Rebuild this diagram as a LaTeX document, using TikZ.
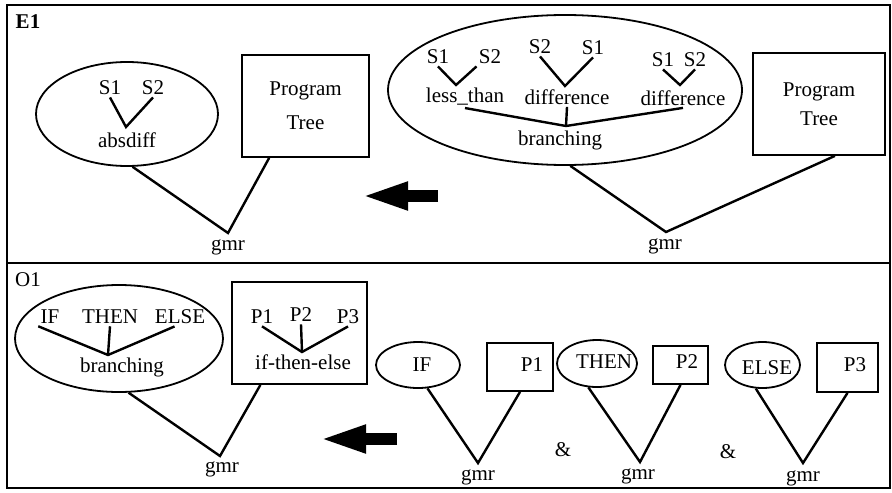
\documentclass[tikz,border=0pt]{standalone}
\usepackage{fontspec}
\setmainfont{Liberation Serif}
\usetikzlibrary{shapes.geometric,arrows.meta}
\newcommand\diagfont{\fontsize{10.5}{12.6}\selectfont}
\begin{document}
\begin{tikzpicture}[x=0.5pt,y=-0.5pt,
    every node/.style={font=\diagfont, inner sep=1pt},
    oval/.style={draw, ellipse, line width=0.9pt, inner sep=0pt},
    tbox/.style={draw, rectangle, line width=0.9pt, align=center},
    bigarrow/.style={line width=6pt, -{Triangle[length=24pt,width=12.5pt]}}]
  \useasboundingbox (0,0) rectangle (892,492);
  \draw[line width=1pt] (7,5) rectangle (890,488);
  \draw[line width=1pt] (7,263) -- (890,263);
  % E1
  \draw
    (28,22) node[font=\diagfont\bfseries] (e1){E1}
    (127,114) node[oval, minimum width=91pt, minimum height=52pt] (absoval){}
    (110,88) node (s1){S1}
    (153,88) node (s2){S2}
    (127,140) node (absdiff){absdiff}
    (126,127) coordinate (absv)
    (305.5,106) node[tbox, minimum width=63.5pt, minimum height=51pt,
      font=\fontsize{10.5}{17}\selectfont] (tree1){Program\\Tree}
    (228,233) coordinate (gmrv1)
    (228,247) node (gmr1){gmr}
    (438,196) coordinate (tail1)
    (360,196) coordinate (tip1)
    (565,90) node[oval, minimum width=177pt, minimum height=75pt] (branchoval){}
    (438,57) node (s1a){S1}
    (490,57) node (s2a){S2}
    (465,97) node (less){less\_than}
    (456,85) coordinate (lessv)
    (540,47) node (s2b){S2}
    (593,48) node (s1b){S1}
    (567,97) node (diffa){difference}
    (565,86) coordinate (diffav)
    (663,60) node (s1c){S1}
    (695,60) node (s2c){S2}
    (683,98) node (diffb){difference}
    (680,85) coordinate (diffbv)
    (566,126) coordinate (branchv)
    (560,140) node (branch){branching}
    (819,104) node[tbox, minimum width=66pt, minimum height=51pt,
      font=\fontsize{10.5}{14.5}\selectfont] (tree2){Program\\Tree}
    (666,232) coordinate (gmrv2)
    (665,246) node (gmr2){gmr};
  \begin{scope}[line width=1.2pt]
    \draw (s1.south) -- (absv) -- (s2.south);
    \draw (absoval.-84) -- (gmrv1) -- (tree1.-125);
    \draw (s1a.south) -- (lessv) -- (s2a.south west);
    \draw (s2b.south) -- (diffav) -- (s1b.south);
    \draw (s1c.south) -- (diffbv) -- (s2c.south);
    \draw (less.south) -- (branchv) -- (diffb.south);
    \draw (diffa.south) -- (branchv);
    \draw (branchoval.-86) -- (gmrv2) -- (tree2.-73);
  \end{scope}
  \draw[bigarrow] (tail1) -- (tip1);
  % O1
  \draw
    (28,280) node (o1){O1}
    (119,338.5) node[oval, minimum width=104pt, minimum height=53.5pt] (ifoval){}
    (50,317) node (if){IF}
    (110,317) node (then){THEN}
    (180,317) node (else){ELSE}
    (108,355) coordinate (ifv)
    (122,367) node (branch3){branching}
    (299.5,333) node[tbox, minimum width=67.5pt, minimum height=51pt] (itebox){}
    (262,317) node (p1){P1}
    (301,315) node (p2){P2}
    (348,317) node (p3){P3}
    (302,352) coordinate (itev)
    (303,362) node (ite){if-then-else}
    (220,456) coordinate (gmrv3)
    (222,469) node (gmr3){gmr}
    (397,439) coordinate (tail2)
    (318,439) coordinate (tip2)
    (418,365) node[oval, minimum width=42pt, minimum height=23pt] (ifo){}
    (422,365) node (ift){IF}
    (520,367) node[tbox, minimum width=33pt, minimum height=24pt] (p1box){}
    (532,365) node (p1t){P1}
    (478,463) coordinate (gmrv4)
    (478,477) node (gmr4){gmr}
    (563,450) node (and1){\&}
    (597,363.5) node[oval, minimum width=40pt, minimum height=23.5pt] (theno){}
    (604,362) node (thent){THEN}
    (680.5,365) node[tbox, minimum width=27.5pt, minimum height=19pt] (p2box){}
    (687,362) node (p2t){P2}
    (640,462) coordinate (gmrv5)
    (638,476) node (gmr5){gmr}
    (728,452) node (and2){\&}
    (762.5,365) node[oval, minimum width=37.5pt, minimum height=23pt] (elseo){}
    (767,368) node (elset){ELSE}
    (847.5,367.5) node[tbox, minimum width=30.5pt, minimum height=24.5pt] (p3box){}
    (855,365) node (p3t){P3}
    (803,463) coordinate (gmrv6)
    (803,478) node (gmr6){gmr};
  \begin{scope}[line width=1.2pt]
    \draw (if.south west) -- (ifv) -- (else.-120);
    \draw (then.south) -- (ifv);
    \draw (p1.south) -- (itev) -- (p3.south);
    \draw (p2.south) -- (itev);
    \draw (ifoval.-80) -- (gmrv3) -- (itebox.-127);
    \draw (ifo.-68) -- (gmrv4) -- (p1box.south);
    \draw (theno.-110) -- (gmrv5) -- (p2box.south);
    \draw (elseo.-106) -- (gmrv6) -- (p3box.south);
  \end{scope}
  \draw[bigarrow] (tail2) -- (tip2);
\end{tikzpicture}
\end{document}
